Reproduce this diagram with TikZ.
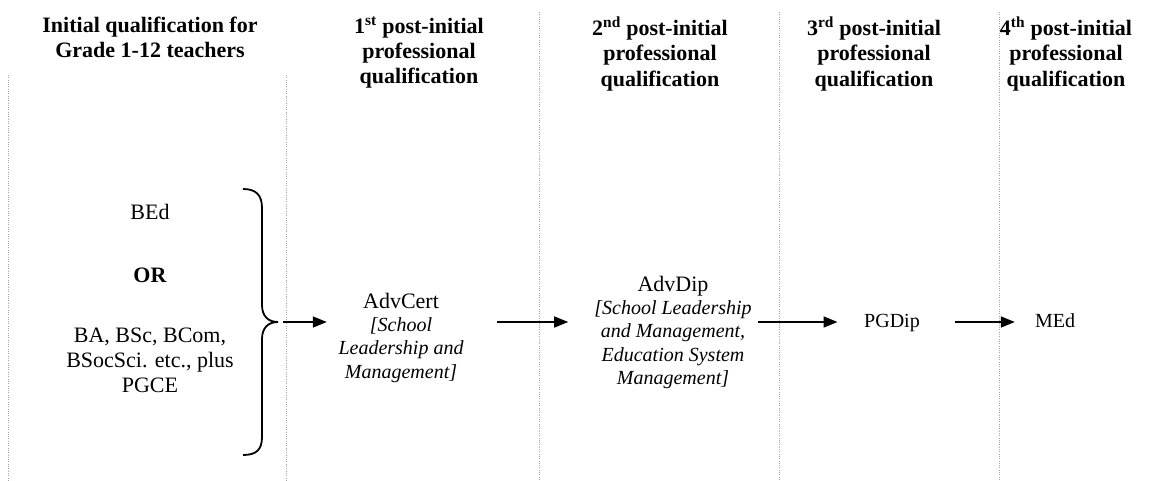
\documentclass[tikz,border=0pt]{standalone}
\usepackage{fontspec}
\setmainfont{Liberation Serif}
\usetikzlibrary{arrows.meta}
\begin{document}
\begin{tikzpicture}[x=1pt,y=-1pt,
  hdr/.style={font=\fontsize{22}{25.3}\selectfont\bfseries, align=center, inner sep=0, anchor=north},
  bodytext/.style={font=\fontsize{22}{25.3}\selectfont, align=center, inner sep=0},
  subtext/.style={font=\fontsize{20}{23.5}\selectfont\itshape, align=center, inner sep=0, anchor=north},
  plaintext/.style={font=\fontsize{20}{23.5}\selectfont, inner sep=0, anchor=base},
  colline/.style={draw=black!35, line width=0.8pt, dash pattern=on 1pt off 1.3pt},
  arr/.style={-{Triangle[length=14pt,width=11pt]}, line width=1.5pt},
  bracestyle/.style={line width=1.8pt}]
\useasboundingbox (0,0) rectangle (1156,481);

% column separators
\draw[colline] (8,75) -- (8,481);
\draw[colline] (286,75) -- (286,481);
\draw[colline] (539,12) -- (539,481);
\draw[colline] (779,12) -- (779,481);
\draw[colline] (999,12) -- (999,481);

% headers
\node[hdr] (h1) at (150,17) {Initial qualification for\\Grade 1-12 teachers};
\node[hdr] (h2) at (419,17) {1\textsuperscript{st} post-initial\\professional\\qualification};
\node[hdr] (h3) at (660,17) {2\textsuperscript{nd} post-initial\\professional\\qualification};
\node[hdr] (h4) at (874,17) {3\textsuperscript{rd} post-initial\\professional\\qualification};
\node[hdr] (h5) at (1066,17) {4\textsuperscript{th} post-initial\\professional\\qualification};

% initial qualifications
\node[bodytext, anchor=base] (bed) at (150,219) {BEd};
\node[bodytext, anchor=base] (or) at (150,282) {\textbf{OR}};
\node[bodytext, anchor=north] (others) at (150,327.5) {BA, BSc, BCom,\\BSocSci. etc., plus\\PGCE};

% brace
\coordinate (btop) at (243,189);
\coordinate (tip) at (278,322);
\coordinate (bbot) at (243,455);
\draw[bracestyle] (btop) .. controls (256,189) and (262,195) .. (262,208)
  -- (262,305) .. controls (262,316) and (268,322) .. (tip)
  .. controls (268,322) and (262,328) .. (262,339)
  -- (262,437) .. controls (262,450) and (256,455) .. (bbot);

% qualifications
\node[bodytext, anchor=base] (advcert) at (401,308) {AdvCert};
\node[subtext] (advcertsub) at (401,317.3) {[School\\Leadership and\\Management]};
\node[bodytext, anchor=base] (advdip) at (673,291) {AdvDip};
\node[subtext] (advdipsub) at (673,300.3) {[School Leadership\\and Management,\\Education System\\Management]};
\node[plaintext] (pgdip) at (892,327) {PGDip};
\node[plaintext] (med) at (1055,327) {MEd};

% arrows
\draw[arr, shorten <=5pt, shorten >=11.5pt] (tip) -- (tip -| advcertsub.west);
\draw[arr, shorten <=33.5pt, shorten >=26pt] (tip -| advcertsub.east) -- (tip -| advdipsub.west);
\draw[arr, shorten <=6pt, shorten >=26.5pt] (tip -| advdipsub.east) -- (tip -| pgdip.west);
\draw[arr, shorten <=35.5pt, shorten >=20pt] (tip -| pgdip.east) -- (tip -| med.west);
\end{tikzpicture}
\end{document}
